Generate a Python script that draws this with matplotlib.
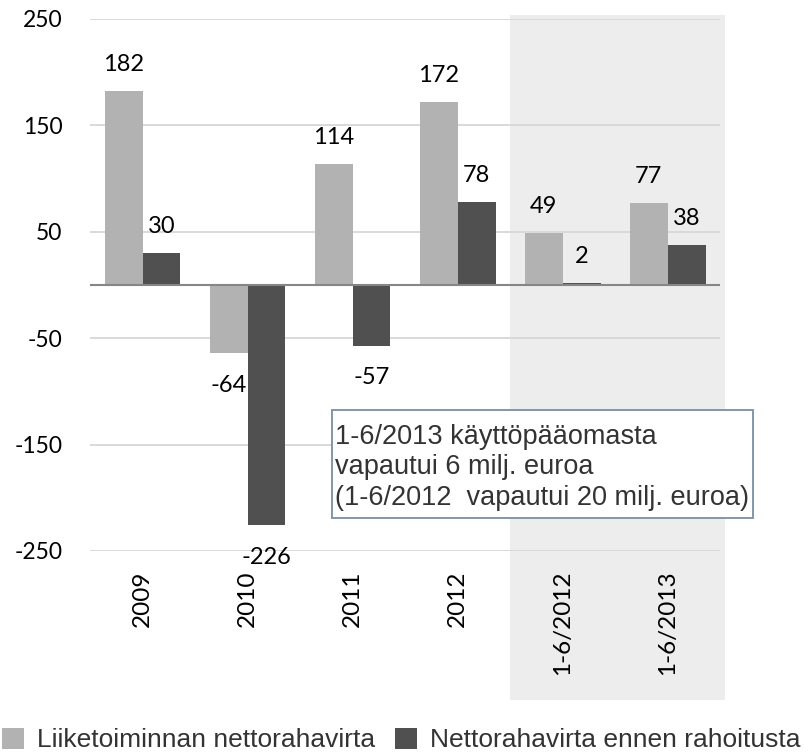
import numpy as np
import matplotlib.pyplot as plt
from matplotlib.patches import Rectangle
from matplotlib.transforms import blended_transform_factory

categories = ['2009', '2010', '2011', '2012', '1-6/2012', '1-6/2013']
liiketoiminta = [182, -64, 114, 172, 49, 77]
ennen_rahoitusta = [30, -226, -57, 78, 2, 38]
series_names = ['Liiketoiminnan nettorahavirta', 'Nettorahavirta ennen rahoitusta']
y_ticks = [250, 150, 50, -50, -150, -250]
note = ('1-6/2013 käyttöpääomasta\n'
        'vapautui 6 milj. euroa\n'
        '(1-6/2012  vapautui 20 milj. euroa)')

LABEL_FONT = ['Lato', 'DejaVu Sans']
BOX_FONT = ['Liberation Sans', 'DejaVu Sans']

fig = plt.figure(figsize=(8.12, 7.53), dpi=100)
ax = fig.add_axes([0.111, 0.2683, 0.776, 0.7065])

x = np.arange(len(categories))
w = 0.36
b1 = ax.bar(x - w / 2, liiketoiminta, w, color='#b2b2b2', zorder=2, label=series_names[0])
b2 = ax.bar(x + w / 2, ennen_rahoitusta, w, color='#505050', zorder=2, label=series_names[1])

# value labels
for bars, vals in [(b1, liiketoiminta), (b2, ennen_rahoitusta)]:
    for rect, v in zip(bars, vals):
        cx = rect.get_x() + rect.get_width() / 2
        off = 19 if v >= 0 else -23
        ax.annotate(str(v), (cx, v), xytext=(0, off), textcoords='offset points',
                    ha='center', va='center', fontsize=17, family=LABEL_FONT, color='black')

ax.set_xlim(-0.5, 5.5)
ax.set_ylim(-250, 250)
ax.set_yticks(y_ticks)
ax.set_yticklabels([str(t) for t in y_ticks], family=LABEL_FONT, fontsize=16.5)
ax.set_xticks(x)
ax.set_xticklabels(categories, rotation=90, family=LABEL_FONT, fontsize=17.5)
ax.tick_params(axis='both', length=0)
ax.tick_params(axis='y', pad=20)
ax.tick_params(axis='x', pad=14)
for s in ax.spines.values():
    s.set_visible(False)
ax.set_axisbelow(True)
ax.grid(axis='y', color='#d9d9d9', linewidth=1.4)
ax.axhline(0, color='#868686', linewidth=1.5, zorder=3)

# shaded half-year area, reaching down behind the tick labels
trans = blended_transform_factory(ax.transData, fig.transFigure)
ax.add_patch(Rectangle((3.5, 0.0704), 2.05, 0.9096, transform=trans, clip_on=False,
                       facecolor='#ededed', edgecolor='none', zorder=0))

# note box
ax.add_patch(Rectangle((1.80, -219), 4.01, 101.5, clip_on=False, facecolor='white',
                       edgecolor='#8496a8', linewidth=1.4, zorder=5))
ax.text(1.83, -130.5, note, ha='left', va='top', fontsize=19.5, family=BOX_FONT,
        color='#333333', linespacing=1.22, zorder=6)

fig.legend(handles=[b1, b2], loc='center left', bbox_to_anchor=(0.002, 0.017), ncol=2,
           frameon=False, prop={'family': BOX_FONT, 'size': 19},
           handlelength=0.83, handleheight=0.83, handletextpad=0.5, columnspacing=0.75,
           borderaxespad=0, borderpad=0.0, labelcolor='#333333')

fig.savefig('out.png', dpi=100)
